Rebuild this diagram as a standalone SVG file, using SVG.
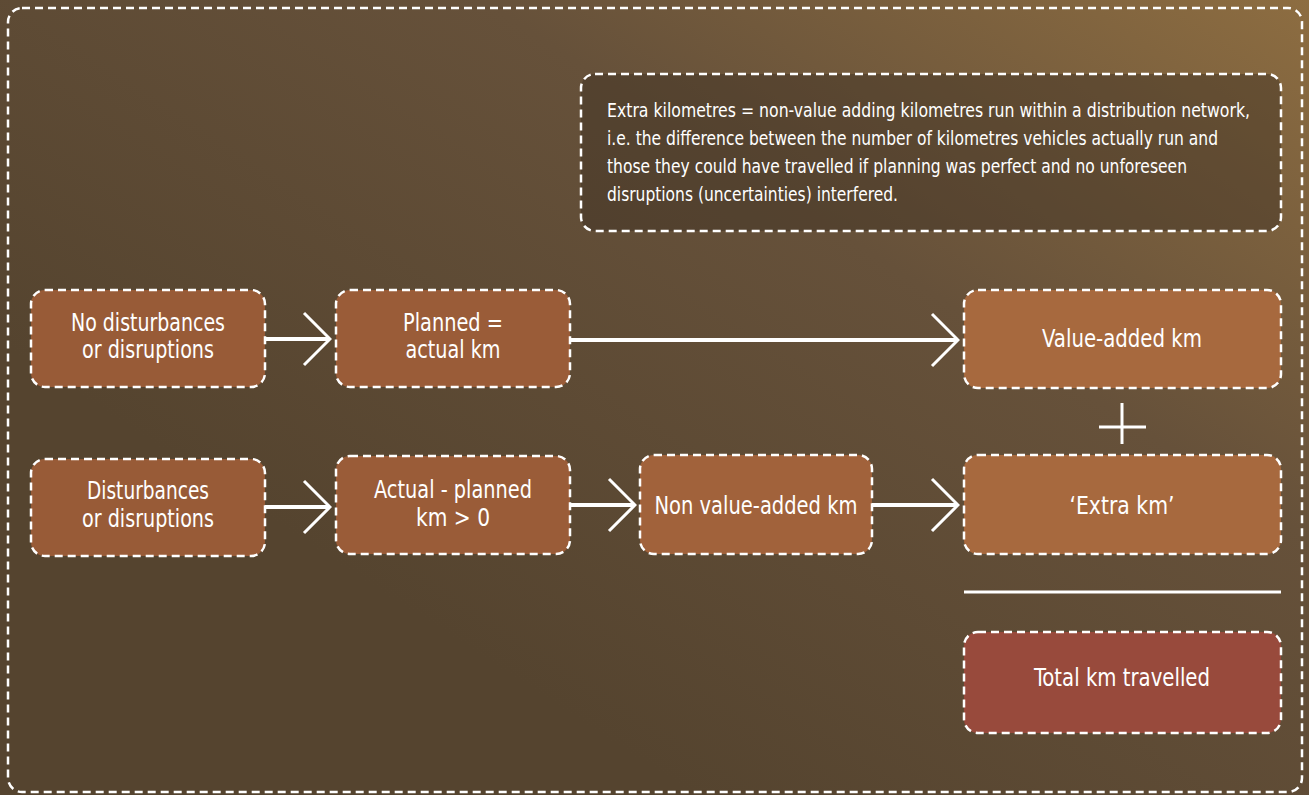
<svg xmlns="http://www.w3.org/2000/svg" width="1309" height="795" viewBox="0 0 1309 795">
<defs>
<linearGradient id="bg" x1="0.25" y1="0.7" x2="1" y2="0">
<stop offset="0" stop-color="#55442f"/>
<stop offset="0.55" stop-color="#66513a"/>
<stop offset="1" stop-color="#8d6d41"/>
</linearGradient>
<marker id="chev" viewBox="0 0 30 60" refX="28" refY="30" markerWidth="30" markerHeight="60" markerUnits="userSpaceOnUse" orient="auto">
<path d="M2,4 L28,30 L2,56" fill="none" stroke="#fff" stroke-width="3"/>
</marker>
</defs>
<style>
.box{stroke:#fff;stroke-width:2.5;stroke-dasharray:8 5;}
.t{font-family:"DejaVu Sans Condensed","DejaVu Sans",sans-serif;font-stretch:condensed;fill:#fff;font-size:25px;text-anchor:middle;}
.d{font-family:"DejaVu Sans Condensed","DejaVu Sans",sans-serif;font-stretch:condensed;fill:#fff;font-size:19.5px;}
.c{stroke:#fff;stroke-width:4;fill:none;marker-end:url(#chev);}
.ln{stroke:#fff;stroke-width:3;fill:none;}
</style>
<rect x="0" y="0" width="1309" height="795" fill="url(#bg)"/>
<rect x="8" y="8" width="1294" height="784" rx="14" fill="none" class="box"/>

<g id="definition">
<rect x="581" y="74" width="700" height="157" rx="14" fill="#3e3024" fill-opacity="0.45" class="box"/>
<text class="d" x="607" y="117" textLength="643" lengthAdjust="spacingAndGlyphs">Extra kilometres = non-value adding kilometres run within a distribution network,</text>
<text class="d" x="607" y="145" textLength="611" lengthAdjust="spacingAndGlyphs">i.e. the difference between the number of kilometres vehicles actually run and</text>
<text class="d" x="607" y="173" textLength="580" lengthAdjust="spacingAndGlyphs">those they could have travelled if planning was perfect and no unforeseen</text>
<text class="d" x="607" y="201" textLength="291" lengthAdjust="spacingAndGlyphs">disruptions (uncertainties) interfered.</text>
</g>

<g id="connectors">
<line class="c" x1="265" y1="339" x2="330" y2="339"/>
<line class="c" x1="570" y1="340" x2="958" y2="340"/>
<line class="c" x1="265" y1="507" x2="330" y2="507"/>
<line class="c" x1="570" y1="505" x2="635" y2="505"/>
<line class="c" x1="872" y1="505" x2="958" y2="505"/>
</g>

<g id="n-no-disturbances">
<rect x="31" y="290" width="234" height="97" rx="14" fill="#985b37" class="box"/>
<text class="t" x="148" y="331" textLength="154" lengthAdjust="spacingAndGlyphs">No disturbances</text>
<text class="t" x="148" y="358" textLength="132" lengthAdjust="spacingAndGlyphs">or disruptions</text>
</g>
<g id="n-planned">
<rect x="336" y="290" width="234" height="97" rx="14" fill="#9a5c38" class="box"/>
<text class="t" x="453" y="331" textLength="100" lengthAdjust="spacingAndGlyphs">Planned =</text>
<text class="t" x="453" y="358" textLength="95" lengthAdjust="spacingAndGlyphs">actual km</text>
</g>
<g id="n-value-added">
<rect x="964" y="290" width="317" height="98" rx="14" fill="#a7693e" class="box"/>
<text class="t" x="1122" y="347" textLength="160" lengthAdjust="spacingAndGlyphs">Value-added km</text>
</g>
<g id="plus">
<line class="ln" x1="1099" y1="427" x2="1146" y2="427"/>
<line class="ln" x1="1122" y1="403" x2="1122" y2="444"/>
</g>
<g id="n-disturbances">
<rect x="31" y="459" width="234" height="97" rx="14" fill="#985b37" class="box"/>
<text class="t" x="148" y="499" textLength="122" lengthAdjust="spacingAndGlyphs">Disturbances</text>
<text class="t" x="148" y="527" textLength="132" lengthAdjust="spacingAndGlyphs">or disruptions</text>
</g>
<g id="n-actual-planned">
<rect x="336" y="456" width="234" height="98" rx="14" fill="#9a5c38" class="box"/>
<text class="t" x="453" y="498" textLength="158" lengthAdjust="spacingAndGlyphs">Actual - planned</text>
<text class="t" x="453" y="526" textLength="74" lengthAdjust="spacingAndGlyphs">km &gt; 0</text>
</g>
<g id="n-non-value-added">
<rect x="640" y="455" width="232" height="99" rx="14" fill="#a1623b" class="box"/>
<text class="t" x="756" y="514" textLength="203" lengthAdjust="spacingAndGlyphs">Non value-added km</text>
</g>
<g id="n-extra">
<rect x="964" y="455" width="317" height="99" rx="14" fill="#a7693e" class="box"/>
<text class="t" x="1122" y="514" textLength="105" lengthAdjust="spacingAndGlyphs">‘Extra km’</text>
</g>
<g id="sum-line">
<line class="ln" x1="964" y1="592" x2="1281" y2="592"/>
</g>
<g id="n-total">
<rect x="964" y="632" width="317" height="101" rx="14" fill="#984a3c" class="box"/>
<text class="t" x="1122" y="686" textLength="176" lengthAdjust="spacingAndGlyphs">Total km travelled</text>
</g>
</svg>
